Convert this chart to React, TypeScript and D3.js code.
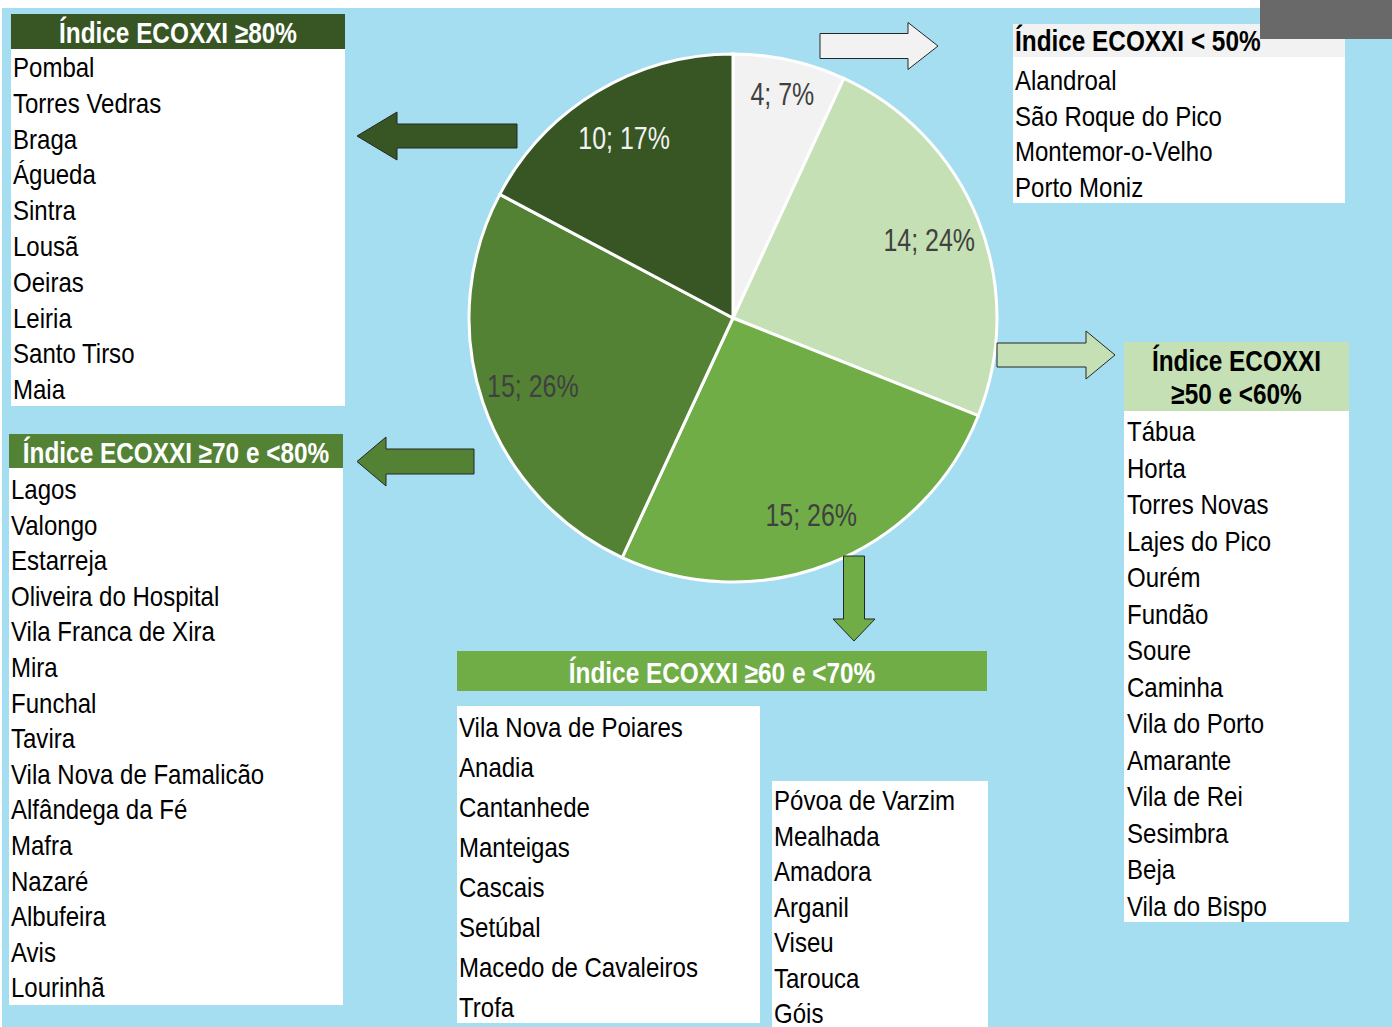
import React from 'react';
import * as d3 from 'd3';

// ECOXXI index groups, clockwise from 12 o'clock as in the original pie
const categories = ['< 50%', '≥50 e <60%', '≥60 e <70%', '≥70 e <80%', '≥80%'];
const counts = [4, 14, 15, 15, 10];
const sliceColors = ['#f2f2f2', '#c5e0b4', '#70ad47', '#548235', '#375623'];

const citiesBelow50 = ['Alandroal', 'São Roque do Pico', 'Montemor-o-Velho', 'Porto Moniz'];
const cities50to60 = [
  'Tábua', 'Horta', 'Torres Novas', 'Lajes do Pico', 'Ourém', 'Fundão', 'Soure',
  'Caminha', 'Vila do Porto', 'Amarante', 'Vila de Rei', 'Sesimbra', 'Beja', 'Vila do Bispo',
];
const cities60to70 = [
  'Vila Nova de Poiares', 'Anadia', 'Cantanhede', 'Manteigas', 'Cascais', 'Setúbal',
  'Macedo de Cavaleiros', 'Trofa',
  'Póvoa de Varzim', 'Mealhada', 'Amadora', 'Arganil', 'Viseu', 'Tarouca', 'Góis',
];
const cities70to80 = [
  'Lagos', 'Valongo', 'Estarreja', 'Oliveira do Hospital', 'Vila Franca de Xira', 'Mira',
  'Funchal', 'Tavira', 'Vila Nova de Famalicão', 'Alfândega da Fé', 'Mafra', 'Nazaré',
  'Albufeira', 'Avis', 'Lourinhã',
];
const citiesAbove80 = [
  'Pombal', 'Torres Vedras', 'Braga', 'Águeda', 'Sintra', 'Lousã', 'Oeiras', 'Leiria',
  'Santo Tirso', 'Maia',
];

const W = 1392;
const H = 1027;
const FONT = "'Liberation Sans', Arial, sans-serif";

// condensed text: the source uses a narrow face, so squeeze a regular one
const NText = ({ x, y, size, bold = false, sx = 0.89, anchor = 'start', fill = '#000', children }: any) => (
  <text
    transform={`translate(${x},${y}) scale(${sx},1)`}
    fontFamily={FONT}
    fontSize={size}
    fontWeight={bold ? 'bold' : 'normal'}
    textAnchor={anchor}
    fill={fill}
  >
    {children}
  </text>
);

const Items = ({ names, x, y0, step }: any) => (
  <g>
    {names.map((n: string, i: number) => (
      <NText key={n} x={x} y={y0 + i * step} size={27}>{n}</NText>
    ))}
  </g>
);

// block arrow polygon; dir is 'left' | 'right' | 'down'
const arrowPath = (dir: string, a: any) => {
  if (dir === 'left') {
    const { tip, headX, shaftEnd, cy, half, headHalf } = a;
    return `M${tip},${cy} L${headX},${cy - headHalf} L${headX},${cy - half} L${shaftEnd},${cy - half} L${shaftEnd},${cy + half} L${headX},${cy + half} L${headX},${cy + headHalf} Z`;
  }
  if (dir === 'right') {
    const { tip, headX, shaftStart, cy, half, headHalf } = a;
    return `M${tip},${cy} L${headX},${cy - headHalf} L${headX},${cy - half} L${shaftStart},${cy - half} L${shaftStart},${cy + half} L${headX},${cy + half} L${headX},${cy + headHalf} Z`;
  }
  const { tip, headY, shaftStart, cx, half, headHalf } = a;
  return `M${cx},${tip} L${cx - headHalf},${headY} L${cx - half},${headY} L${cx - half},${shaftStart} L${cx + half},${shaftStart} L${cx + half},${headY} L${cx + headHalf},${headY} Z`;
};

export default function App() {
  const cx = 733;
  const cy = 318;
  const R = 264;
  const total = d3.sum(counts);

  const pie = d3.pie<number>().sort(null).value((d) => d);
  const arcs = pie(counts);
  const arc = d3.arc<d3.PieArcDatum<number>>().innerRadius(0).outerRadius(R);
  const labelArc = (d: d3.PieArcDatum<number>) => {
    const r = d.value / total < 0.1 ? R * 0.87 : R * 0.8;
    return d3.arc<d3.PieArcDatum<number>>().innerRadius(r).outerRadius(r).centroid(d);
  };
  const color = d3.scaleOrdinal<string, string>().domain(categories).range(sliceColors);

  const stroke = '#262626';

  return (
    <svg width={W} height={H} style={{ position: 'absolute', left: 0, top: 0 }}>
      <rect x={0} y={0} width={W} height={H} fill="#ffffff" />
      <rect x={2} y={8} width={W - 2} height={H - 8} fill="#a4def0" />

      {/* pie */}
      <g transform={`translate(${cx},${cy})`}>
        {arcs.map((d, i) => (
          <path key={i} d={arc(d) || ''} fill={color(categories[i])} stroke="#ffffff" strokeWidth={3} />
        ))}
        {arcs.map((d, i) => {
          const [lx, ly] = labelArc(d);
          const dark = d3.hsl(color(categories[i])).l < 0.3;
          return (
            <NText key={'l' + i} x={lx} y={ly + 11.5} size={32} sx={0.78} anchor="middle" fill={dark ? '#f2f2f2' : '#404040'}>
              {`${d.value}; ${Math.round((d.value / total) * 100)}%`}
            </NText>
          );
        })}
      </g>

      {/* arrows */}
      <path d={arrowPath('left', { tip: 357, headX: 397, shaftEnd: 517, cy: 136, half: 12, headHalf: 24 })} fill={sliceColors[4]} stroke={stroke} strokeWidth={1} />
      <path d={arrowPath('left', { tip: 357, headX: 386, shaftEnd: 474, cy: 461.5, half: 12.5, headHalf: 24.5 })} fill={sliceColors[3]} stroke={stroke} strokeWidth={1} />
      <path d={arrowPath('right', { tip: 938, headX: 908, shaftStart: 820, cy: 46, half: 12.5, headHalf: 23.5 })} fill={sliceColors[0]} stroke={stroke} strokeWidth={1} />
      <path d={arrowPath('right', { tip: 1115, headX: 1086, shaftStart: 997, cy: 355, half: 12, headHalf: 24 })} fill={sliceColors[1]} stroke={stroke} strokeWidth={1} />
      <path d={arrowPath('down', { tip: 641, headY: 619, shaftStart: 556, cx: 854, half: 10.5, headHalf: 21 })} fill={sliceColors[2]} stroke={stroke} strokeWidth={1} />

      {/* ≥80% */}
      <rect x={11} y={14} width={334} height={35} fill={sliceColors[4]} />
      <rect x={11} y={49} width={334} height={357} fill="#ffffff" />
      <NText x={178} y={42.5} size={29} bold sx={0.84} anchor="middle" fill="#ffffff">{`Índice ECOXXI ${categories[4]}`}</NText>
      <Items names={citiesAbove80} x={13} y0={77} step={35.8} />

      {/* ≥70 e <80% */}
      <rect x={9} y={434} width={334} height={34} fill={sliceColors[3]} />
      <rect x={9} y={468} width={334} height={537} fill="#ffffff" />
      <NText x={176} y={463} size={29} bold sx={0.84} anchor="middle" fill="#ffffff">{`Índice ECOXXI ${categories[3]}`}</NText>
      <Items names={cities70to80} x={11} y0={499} step={35.6} />

      {/* < 50% */}
      <rect x={1013} y={24} width={332} height={33} fill={sliceColors[0]} />
      <rect x={1013} y={57} width={332} height={146} fill="#ffffff" />
      <NText x={1015} y={50.5} size={29} bold sx={0.84} fill="#000000">{`Índice ECOXXI ${categories[0]}`}</NText>
      <Items names={citiesBelow50} x={1015} y0={90} step={35.7} />

      {/* ≥50 e <60% */}
      <rect x={1124} y={342} width={225} height={69} fill={sliceColors[1]} />
      <rect x={1124} y={411} width={225} height={511} fill="#ffffff" />
      <NText x={1236.5} y={371} size={29} bold sx={0.84} anchor="middle" fill="#000000">Índice ECOXXI</NText>
      <NText x={1236.5} y={404} size={29} bold sx={0.84} anchor="middle" fill="#000000">{categories[1]}</NText>
      <Items names={cities50to60} x={1127} y0={441} step={36.5} />

      {/* ≥60 e <70% */}
      <rect x={457} y={651} width={530} height={40} fill={sliceColors[2]} />
      <NText x={722} y={683} size={29} bold sx={0.84} anchor="middle" fill="#ffffff">{`Índice ECOXXI ${categories[2]}`}</NText>
      <rect x={457} y={706} width={303} height={317} fill="#ffffff" />
      <Items names={cities60to70.slice(0, 8)} x={459} y0={737} step={40} />
      <rect x={772} y={781} width={216} height={H - 781} fill="#ffffff" />
      <Items names={cities60to70.slice(8)} x={774} y0={810} step={35.5} />

      {/* grey block in the top-right corner of the source */}
      <rect x={1260} y={0} width={W - 1260} height={39} fill="#696969" />
    </svg>
  );
}
